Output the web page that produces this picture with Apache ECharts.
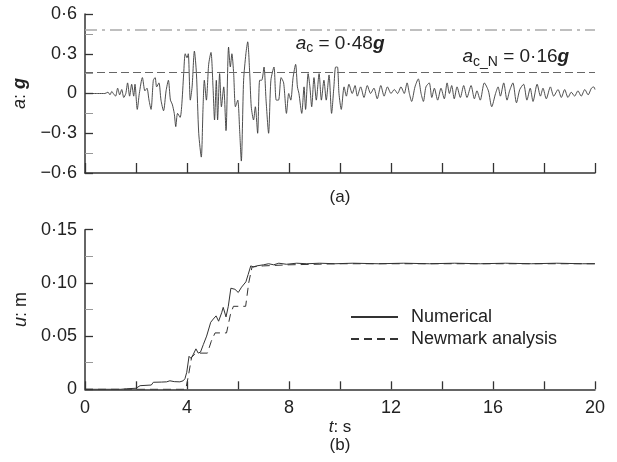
<!DOCTYPE html>
<html>
<head>
<meta charset="utf-8">
<script src="https://cdn.jsdelivr.net/npm/echarts@6/dist/echarts.min.js"></script>
<style>html,body{margin:0;padding:0;background:#fff}#c{width:617px;height:462px}</style>
</head>
<body>
<div id="c"></div>
<script>
// ---- data ----
const accT = [0,0.5,0.78,0.9,0.98,1.05,1.11,1.2,1.28,1.36,1.44,1.52,1.6,1.67,1.75,1.83,1.91,1.96,2.05,2.13,2.25,2.35,2.43,2.51,2.59,2.68,2.75,2.81,2.9,2.98,3.08,3.18,3.27,3.35,3.42,3.5,3.56,3.63,3.73,3.79,3.87,3.93,4.0,4.05,4.13,4.2,4.29,4.37,4.46,4.56,4.63,4.68,4.76,4.85,4.94,5.02,5.08,5.15,5.2,5.28,5.35,5.44,5.53,5.63,5.7,5.76,5.83,5.9,5.99,6.07,6.13,6.22,6.31,6.38,6.46,6.52,6.61,6.68,6.77,6.85,6.93,7.02,7.1,7.2,7.29,7.41,7.5,7.59,7.69,7.79,7.9,7.99,8.07,8.16,8.26,8.33,8.39,8.5,8.59,8.65,8.75,8.82,8.89,8.98,9.07,9.18,9.27,9.37,9.46,9.57,9.67,9.76,9.83,9.9,9.96,10.05,10.16,10.25,10.35,10.48,10.59,10.68,10.81,10.94,11.07,11.2,11.33,11.46,11.6,11.73,11.86,12.0,12.13,12.26,12.39,12.52,12.63,12.72,12.81,12.94,13.07,13.18,13.27,13.37,13.5,13.6,13.7,13.83,13.96,14.09,14.2,14.29,14.38,14.48,14.59,14.72,14.85,14.98,15.14,15.27,15.37,15.5,15.66,15.82,15.95,16.1,16.2,16.29,16.42,16.55,16.65,16.78,16.92,17.05,17.2,17.33,17.46,17.57,17.73,17.86,17.96,18.09,18.25,18.38,18.55,18.68,18.81,18.94,19.07,19.2,19.33,19.46,19.6,19.73,19.86,19.95,20.0];
const accA = [0,0,0,0.01,-0.01,0.015,0,-0.02,0.04,-0.01,0.03,-0.03,0,0.08,-0.02,0.07,-0.02,0.07,-0.12,0,0.12,0.02,0.04,-0.05,-0.12,0.1,0.12,0.05,0.08,-0.05,-0.13,0.02,0.1,-0.05,-0.08,-0.15,-0.25,-0.15,-0.18,-0.1,0.15,0.3,0.27,0.3,-0.05,0.05,0.32,0.15,-0.3,-0.48,-0.1,0.1,-0.05,0.22,0.31,0.05,-0.2,0.1,-0.2,0.15,-0.1,0.05,-0.28,0.35,0.2,0.3,0.15,-0.1,-0.05,-0.3,-0.51,0.1,0.3,0.39,0.15,-0.1,-0.2,-0.1,-0.3,0.1,0.1,0.2,-0.05,-0.3,0.1,0.2,-0.05,-0.05,0.12,0.08,-0.15,0,-0.05,0.12,0.22,0.05,0,-0.15,0.05,-0.12,0.15,0.05,-0.1,0.12,-0.05,0.15,-0.05,0.1,-0.05,0.14,-0.15,0.05,0.2,0.2,0,-0.12,0.05,-0.02,0.07,0,0.06,-0.02,0.05,-0.03,0.06,0,0.04,-0.04,0.06,-0.02,0.05,0,0.03,0,0.05,0,0.08,0,-0.06,0.05,0.11,0,-0.06,0.05,0.08,-0.03,0.04,-0.05,0.04,-0.04,0.08,0,0.06,-0.04,0.05,-0.03,0.06,-0.03,0.06,-0.04,0.02,-0.05,0.08,0.02,-0.1,0,0.05,-0.02,0.08,-0.05,0.02,0.08,-0.07,0.03,0.07,-0.05,0.04,-0.06,0.07,-0.02,0.04,-0.04,0.05,-0.02,0.03,-0.03,0.03,-0.03,0.01,-0.02,0.02,-0.02,0.03,-0.01,0.04,0.05,0.03];
const acLimit = 0.48;
const acNLimit = 0.16;

const numT = [0,1.4,1.63,2.0,2.16,2.6,2.68,3.0,3.2,3.33,3.5,3.72,3.85,3.92,3.99,4.08,4.16,4.25,4.35,4.44,4.53,4.64,4.77,4.93,5.03,5.14,5.24,5.36,5.42,5.53,5.62,5.72,5.88,6.01,6.14,6.31,6.4,6.5,6.6,6.73,7.0,7.2,7.4,7.6,7.9,8.3,8.7,9.2,9.8,10.5,11.5,12.5,13.5,14.5,15.5,16.5,17.5,18.5,19.5,20];
const numU = [0,0,0.0005,0.001,0.0034,0.004,0.0066,0.0068,0.007,0.008,0.0072,0.007,0.008,0.01,0.016,0.031,0.029,0.033,0.038,0.034,0.035,0.042,0.05,0.063,0.066,0.069,0.064,0.072,0.077,0.068,0.078,0.095,0.094,0.091,0.096,0.101,0.108,0.116,0.115,0.116,0.117,0.118,0.117,0.1185,0.1175,0.1185,0.118,0.1185,0.118,0.1185,0.118,0.1185,0.118,0.1185,0.118,0.1185,0.118,0.1185,0.118,0.118];
const newT = [0,3.95,4.05,4.18,4.3,4.5,4.8,4.95,5.1,5.55,5.7,5.82,6.3,6.42,6.55,7.0,8.0,10,20];
const newU = [0,0,0.012,0.03,0.033,0.034,0.034,0.045,0.053,0.053,0.07,0.078,0.078,0.1,0.115,0.116,0.117,0.118,0.118];

const seriesNames = ['Numerical','Newmark analysis'];

// ---- chart ----
const FF = 'Liberation Sans, Arial, Helvetica, sans-serif';
const FS = 18;
const rich = {
  i: {fontFamily: FF, fontSize: 19, fontStyle: 'italic', color: '#222'},
  b: {fontFamily: FF, fontSize: 19, fontStyle: 'italic', fontWeight: 'bold', color: '#222'},
  n: {fontFamily: FF, fontSize: 19, color: '#222'},
  s: {fontFamily: FF, fontSize: 14, color: '#222', padding: [10, 0, 0, 0]}
};
const richName = {
  i: {fontFamily: FF, fontSize: 18, fontStyle: 'italic', color: '#222'},
  b: {fontFamily: FF, fontSize: 18, fontStyle: 'italic', fontWeight: 'bold', color: '#222'},
  n: {fontFamily: FF, fontSize: 18, color: '#222'}
};
function fmtTop(v){
  if (Math.abs(v) < 1e-9) return '0';
  return (v < 0 ? '−' : '') + Math.abs(v).toFixed(1).replace('.', '·');
}
function fmtBot(v){
  if (Math.abs(v) < 1e-9) return '0';
  return v.toFixed(2).replace('.', '·');
}
const axisLine = {show: true, onZero: false, lineStyle: {color: '#333', width: 1.5}};
const chart = echarts.init(document.getElementById('c'));
chart.setOption({
  animation: false,
  textStyle: {fontFamily: FF},
  grid: [
    {left: 85, top: 14, width: 510, height: 159},
    {left: 85, top: 229.7, width: 510, height: 159.6}
  ],
  legend: {
    data: seriesNames,
    orient: 'vertical',
    left: 345, top: 303,
    itemWidth: 47, itemHeight: 14, itemGap: 4,
    itemStyle: {opacity: 0},
    textStyle: {fontFamily: FF, fontSize: 18, color: '#222', padding: [0, 0, 0, 8]}
  },
  xAxis: [
    {type: 'value', gridIndex: 0, min: 0, max: 20, interval: 2,
     axisLine: axisLine, splitLine: {show: false},
     axisTick: {inside: true, length: 10, lineStyle: {color: '#333', width: 1.3}},
     axisLabel: {show: false},
     name: '(a)', nameLocation: 'middle', nameGap: 16,
     nameTextStyle: {fontFamily: FF, fontSize: 17, color: '#222'}},
    {type: 'value', gridIndex: 1, min: 0, max: 20, interval: 2,
     axisLine: axisLine, splitLine: {show: false},
     axisTick: {inside: true, length: 8, lineStyle: {color: '#333', width: 1.3}},
     axisLabel: {fontSize: FS, color: '#222', fontFamily: FF, margin: 10,
                 formatter: v => (v % 4 === 0 ? String(v) : '')},
     name: '{i|t}{n|: s}\n{n|(b)}', nameLocation: 'middle', nameGap: 29,
     nameTextStyle: {fontFamily: FF, fontSize: 17, color: '#222', lineHeight: 18,
       rich: {i: {fontFamily: FF, fontSize: 17, fontStyle: 'italic', color: '#222', lineHeight: 18},
              n: {fontFamily: FF, fontSize: 17, color: '#222', lineHeight: 18}}}}
  ],
  yAxis: [
    {type: 'value', gridIndex: 0, min: -0.6, max: 0.6, interval: 0.3,
     axisLine: axisLine, splitLine: {show: false},
     axisTick: {inside: true, length: 8, lineStyle: {color: '#333', width: 1.3}},
     minorTick: {show: true, splitNumber: 2, length: 8, lineStyle: {color: '#999', width: 1}},
     axisLabel: {fontSize: FS, color: '#222', fontFamily: FF, margin: 8, formatter: fmtTop},
     name: '{i|a}{n|: }{b|g}', nameLocation: 'middle', nameRotate: 90, nameGap: 56,
     nameTextStyle: {fontFamily: FF, fontSize: 18, rich: richName}},
    {type: 'value', gridIndex: 1, min: 0, max: 0.15, interval: 0.05,
     axisLine: axisLine, splitLine: {show: false},
     axisTick: {inside: true, length: 8, lineStyle: {color: '#333', width: 1.3}},
     minorTick: {show: true, splitNumber: 2, length: 8, lineStyle: {color: '#999', width: 1}},
     axisLabel: {fontSize: FS, color: '#222', fontFamily: FF, margin: 8, formatter: fmtBot},
     name: '{i|u}{n|: m}', nameLocation: 'middle', nameRotate: 90, nameGap: 46,
     nameTextStyle: {fontFamily: FF, fontSize: 18, rich: richName}}
  ],
  series: [
    {type: 'line', name: 'acc', xAxisIndex: 0, yAxisIndex: 0,
     data: accT.map((t, i) => [t, accA[i]]),
     symbol: 'none', smooth: 0.25, lineStyle: {color: '#3a3a3a', width: 0.9}, z: 3,
     markLine: {silent: true, symbol: ['none', 'none'], label: {show: false},
       data: [
         {yAxis: acLimit, lineStyle: {color: '#aaa', width: 1.6, type: [12, 5, 3, 5]}},
         {yAxis: acNLimit, lineStyle: {color: '#666', width: 1, type: [8, 4]}}
       ]},
     markPoint: {silent: true, symbol: 'circle', symbolSize: 0,
       label: {show: true, position: 'right', distance: 0, rich: rich},
       data: [
         {coord: [8.26, 0.379], label: {formatter: '{i|a}{s|c}{n| = 0·48}{b|g}'}},
         {coord: [14.8, 0.278], label: {formatter: '{i|a}{s|c_N}{n| = 0·16}{b|g}'}}
       ]}},
    {type: 'line', name: seriesNames[0], xAxisIndex: 1, yAxisIndex: 1,
     data: numT.map((t, i) => [t, numU[i]]),
     symbol: 'none', itemStyle: {color: '#333'}, lineStyle: {color: '#333', width: 1}},
    {type: 'line', name: seriesNames[1], xAxisIndex: 1, yAxisIndex: 1,
     data: newT.map((t, i) => [t, newU[i]]),
     symbol: 'none', itemStyle: {color: '#333'}, lineStyle: {color: '#333', width: 1, type: [8, 5]}}
  ]
});
</script>
</body>
</html>
